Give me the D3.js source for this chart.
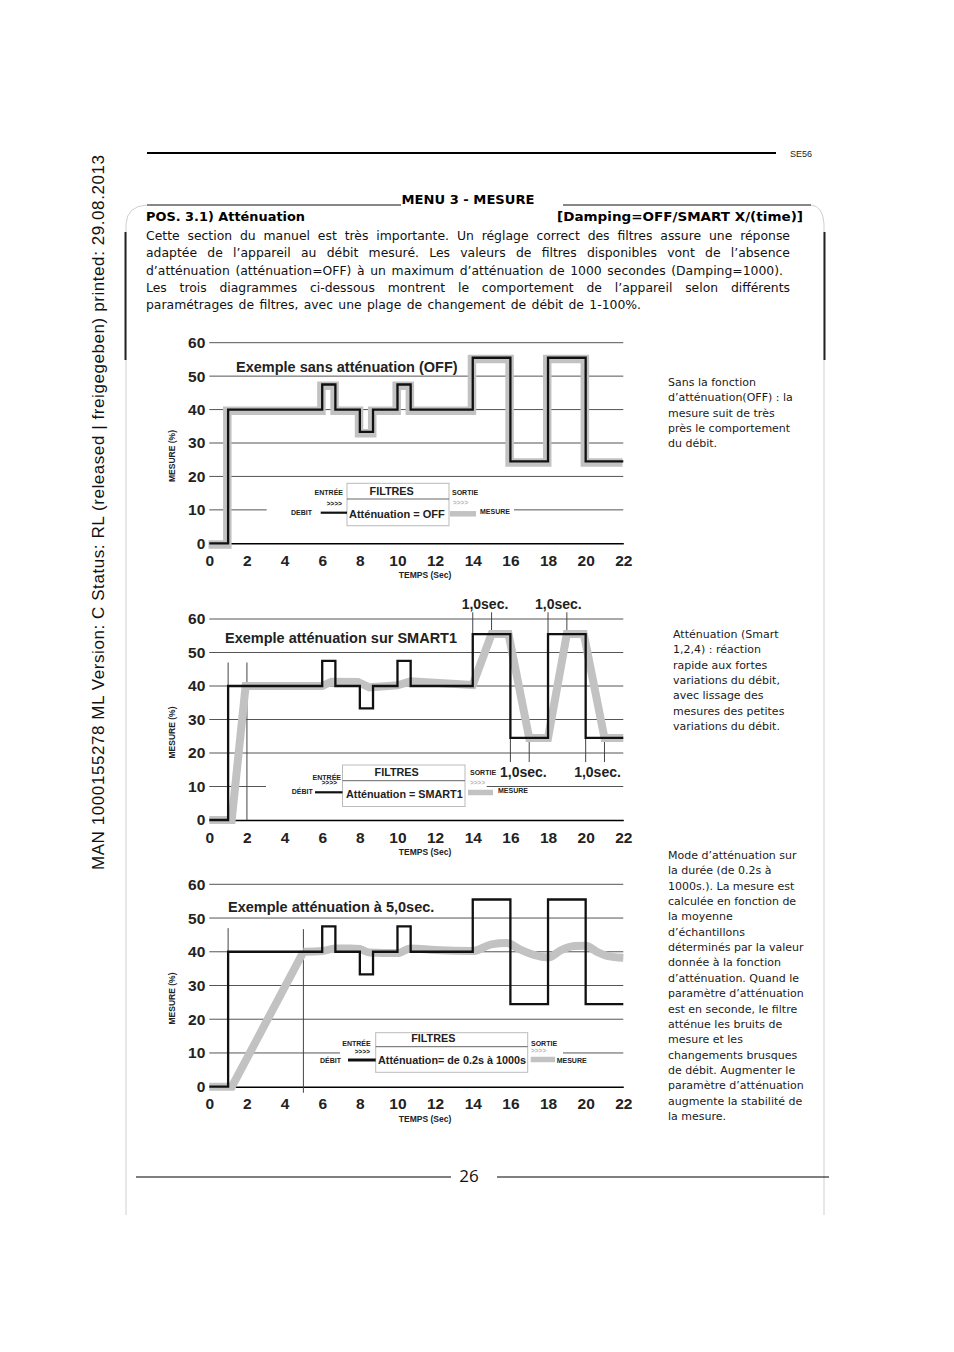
<!DOCTYPE html>
<html><head><meta charset="utf-8">
<script src="https://cdn.jsdelivr.net/npm/d3@7"></script>
<style>body{margin:0;background:#fff}svg{display:block}</style>
</head><body>
<svg id="page" width="954" height="1352"></svg>
<script>
// ---------- DATA ----------
const xTicks = [0,2,4,6,8,10,12,14,16,18,20,22];
const yTicks = [0,10,20,30,40,50,60];
// input flow (DEBIT), step-after
const debitTime  = [0,1,6,6.7,8,8.7,10,10.7,14,16,18,20,22];
const debitValue = [0,40,47.5,40,33.3,40,47.5,40,55.5,24.5,55.5,24.5,24.5];
// measured output, damping OFF (identical step)
const offTime  = [0,1,6,6.7,8,8.7,10,10.7,14,16,18,20,22];
const offValue = [0,40,47.5,40,33.3,40,47.5,40,55.5,24.5,55.5,24.5,24.5];
// measured output, SMART1
const smartTime  = [0,1.19,1.93,6,6.5,7.9,8.5,9.5,10,10.7,12,14,15,15.9,17,18,19,19.9,21,22];
const smartValue = [0,0,40,40,41.3,41.2,39.6,40,40.2,41.4,41,40.3,55.5,55.5,24.5,24.5,55.5,55.5,24.5,24.5];
// measured output, damping 5 s (ramp part, then smooth part)
const dampRampTime  = [0,1.2,5];
const dampRampValue = [0,0,40];
const dampTime  = [5,6,6.7,7.5,8,8.5,10,10.7,12,14,15,15.8,16.5,17.3,18,18.7,19.4,20,20.6,21.2,22];
const dampValue = [40,40.2,41,41,40.8,39.8,39.6,41,40.5,40.2,42.2,42.6,40.7,39,38.3,40.5,41.7,41.8,40,38.7,38.2];
// annotation markers chart 2
const smartMarkX    = [1,2,14,15,18,19,16,17,20,21];
const smartMarkFrom = [0,0,55.5,55.5,55.5,55.5,17.3,17.3,17.3,17.3];
const smartMarkTo   = [47,47,62,62,62,62,24.5,24.5,24.5,24.5];
const smartNoteX = [14.65,18.55,16.69,20.63];
const smartNoteY = [64.5,64.5,14.4,14.4];
const smartNoteText = ["1,0sec.","1,0sec.","1,0sec.","1,0sec."];
// annotation markers chart 3
const dampMarkX    = [1,5];
const dampMarkFrom = [0,-1.8];
const dampMarkTo   = [47,46.7];

const chartTitles = ["Exemple sans atténuation (OFF)","Exemple atténuation sur SMART1","Exemple atténuation à 5,0sec."];
const filterLabels = ["Atténuation = OFF","Atténuation = SMART1","Atténuation= de 0.2s à 1000s"];
const debitLabels = ["DEBIT","DÉBIT","DÉBIT"];

const bodyLines = [
 "Cette section du manuel est très importante. Un réglage correct des filtres assure une réponse",
 "adaptée de l’appareil au débit mesuré. Les valeurs de filtres disponibles vont de l’absence",
 "d’atténuation (atténuation=OFF) à un maximum d’atténuation de 1000 secondes (Damping=1000).",
 "Les trois diagrammes ci-dessous montrent le comportement de l’appareil selon différents",
 "paramétrages de filtres, avec une plage de changement de débit de 1-100%."
];
const side1 = ["Sans la fonction","d’atténuation(OFF) : la","mesure suit de très","près le comportement","du débit."];
const side2 = ["Atténuation (Smart","1,2,4) : réaction","rapide aux fortes","variations du débit,","avec lissage des","mesures des petites","variations du débit."];
const side3 = ["Mode d’atténuation sur","la durée (de 0.2s à","1000s.). La mesure est","calculée en fonction de","la moyenne","d’échantillons","déterminés par la valeur","donnée à la fonction","d’atténuation. Quand le","paramètre d’atténuation","est en seconde, le filtre","atténue les bruits de","mesure et les","changements brusques","de débit. Augmenter le","paramètre d’atténuation","augmente la stabilité de","la mesure."];

// ---------- DRAW ----------
const svg = d3.select('#page');
svg.append('rect').attr('width',954).attr('height',1352).attr('fill','#fff');
const ARIAL = "'Liberation Sans', Arial, sans-serif";
const TAHOMA = "'DejaVu Sans', Verdana, sans-serif";

// header rule
svg.append('line').attr('x1',147).attr('x2',776).attr('y1',153).attr('y2',153).attr('stroke','#000').attr('stroke-width',2);
svg.append('text').attr('x',790).attr('y',157).attr('font-family',ARIAL).attr('font-size',9).attr('fill','#222').text('SE56');

// frame
svg.append('path').attr('d','M126,1215 L126,224 Q127,206 147,205').attr('fill','none').attr('stroke','#cfcfcf');
svg.append('path').attr('d','M811,205 Q823,206 824,224 L824,1215').attr('fill','none').attr('stroke','#cfcfcf');
svg.append('line').attr('x1',147).attr('x2',401).attr('y1',205).attr('y2',205).attr('stroke','#111');
svg.append('line').attr('x1',563).attr('x2',811).attr('y1',205).attr('y2',205).attr('stroke','#111');
svg.append('line').attr('x1',125.5).attr('x2',125.5).attr('y1',232).attr('y2',360).attr('stroke','#222').attr('stroke-width',2);
svg.append('line').attr('x1',824.5).attr('x2',824.5).attr('y1',232).attr('y2',360).attr('stroke','#222').attr('stroke-width',2);

// side vertical doc text
svg.append('text').attr('transform','translate(104,870) rotate(-90)')
  .attr('font-family',ARIAL).attr('font-size',17).attr('fill','#111')
  .attr('textLength',715).attr('lengthAdjust','spacing')
  .text('MAN  1000155278  ML  Version: C  Status: RL (released | freigegeben)  printed: 29.08.2013');

svg.append('text').attr('x',468).attr('y',204).attr('text-anchor','middle').attr('font-family',TAHOMA)
  .attr('font-weight','bold').attr('font-size',12).attr('textLength',133).attr('lengthAdjust','spacingAndGlyphs').text('MENU 3 - MESURE');
svg.append('text').attr('x',146).attr('y',221).attr('font-family',TAHOMA).attr('font-weight','bold').attr('font-size',12.5)
  .attr('textLength',159).attr('lengthAdjust','spacingAndGlyphs').text('POS. 3.1) Atténuation');
svg.append('text').attr('x',557).attr('y',221).attr('font-family',TAHOMA).attr('font-weight','bold').attr('font-size',12.5)
  .attr('textLength',246).attr('lengthAdjust','spacingAndGlyphs').text('[Damping=OFF/SMART X/(time)]');

// justified body text
const bodyEnds = [790,790,783,790,641];
bodyLines.forEach((line,i)=>{
  const y = 240 + i*17.25;
  const words = line.split(' ');
  const g = svg.append('g');
  const nodes = words.map(w=>g.append('text').attr('y',y).attr('font-family',TAHOMA).attr('font-size',12.4).attr('fill','#111').text(w));
  const widths = nodes.map(n=>n.node().getComputedTextLength());
  const total = d3.sum(widths);
  const gap = (bodyEnds[i]-146-total)/(words.length-1);
  let x = 146;
  nodes.forEach((n,k)=>{ n.attr('x',x); x += widths[k]+gap; });
});

function sideText(lines,x,y0){
  lines.forEach((t,i)=>svg.append('text').attr('x',x).attr('y',y0+i*15.35)
    .attr('font-family',TAHOMA).attr('font-size',11).attr('fill','#1a1a1a').text(t));
}
sideText(side1,668,386);
sideText(side2,673,638);
sideText(side3,668,859);

// footer
svg.append('line').attr('x1',136).attr('x2',451).attr('y1',1177).attr('y2',1177).attr('stroke','#000');
svg.append('line').attr('x1',497).attr('x2',829).attr('y1',1177).attr('y2',1177).attr('stroke','#000');
svg.append('text').attr('x',469).attr('y',1182).attr('text-anchor','middle').attr('font-family',"'Open Sans','Noto Sans',sans-serif").attr('font-size',17).attr('fill','#111').text('26');

// ---------- charts ----------
const xScale = d3.scaleLinear().domain([0,22]).range([209.3,623.3]);

const charts = [
 {top:342.7,bottom:543.3,title:chartTitles[0],titleX:236,titleY:366.7,
  series:[{t:offTime,v:offValue,curve:d3.curveStepAfter}],gw:8.5,gshift:[-0.8,1.2],
  L:{gap:[266.7,514],box:[347,483.3,449,525.7],div:499,filt:[391.7,491.5],att:[349,514],attFs:11,entree:[343,493],arrIn:[342,503.7],
     debit:[291,512.7],inLine:[320.7,347,512.7,2.2],sortie:[452,493],arrOut:[453,503],bar:[450,476,513.8],mesure:[480,511.7]}},
 {top:619,bottom:820,title:chartTitles[1],titleX:225,titleY:638.3,
  series:[{t:smartTime,v:smartValue,curve:d3.curveLinear}],gw:8,gshift:[0,0],
  marks:{x:smartMarkX,f:smartMarkFrom,t:smartMarkTo},notes:{x:smartNoteX,y:smartNoteY,t:smartNoteText},
  L:{gap:[266,486.7],box:[342.5,765,465,806.5],div:780.7,filt:[396.7,772],att:[346,794],attFs:10.8,entree:[341,777.7],arrIn:[337,783],
     debit:[291.7,792],inLine:[315,342.5,792.3,2.2],sortie:[470,772.7],arrOut:[470,782.7],bar:[468,493,792.5],mesure:[498,791]}},
 {top:884.3,bottom:1086.7,title:chartTitles[2],titleX:228,titleY:906.7,
  series:[{t:dampRampTime,v:dampRampValue,curve:d3.curveLinear},{t:dampTime,v:dampValue,curve:d3.curveMonotoneX}],gw:8,gshift:[0,0],
  marks:{x:dampMarkX,f:dampMarkFrom,t:dampMarkTo},
  L:{gap:[340,563],box:[375.7,1032.7,527.7,1072.3],div:1046.7,filt:[433.3,1038.3],att:[378,1060.7],attFs:10.8,entree:[370.7,1044],arrIn:[370,1051.7],
     debit:[320,1060.7],inLine:[348,375.7,1060,3],sortie:[531,1043.3],arrOut:[531,1050.7],bar:[530.7,555,1059.5],mesure:[556.7,1060.3]}}
];

charts.forEach((c,ci)=>{
  const y = d3.scaleLinear().domain([0,60]).range([c.bottom,c.top]);
  const g = svg.append('g');
  // grid
  g.selectAll('.grid').data(yTicks.filter(v=>v>0)).join('line')
    .attr('x1',xScale(0)).attr('x2',xScale(22)).attr('y1',d=>y(d)).attr('y2',d=>y(d))
    .attr('stroke','#555').attr('stroke-width',1);
  // gap in 10-line for legend
  g.append('rect').attr('x',c.L.gap[0]).attr('width',c.L.gap[1]-c.L.gap[0]).attr('y',y(10)-2).attr('height',4).attr('fill','#fff');
  // x axis
  const xa = g.append('g').attr('transform',`translate(0,${y(0)})`)
    .call(d3.axisBottom(xScale).tickValues(xTicks).tickSize(0).tickPadding(11.5).tickFormat(d3.format('d')));
  xa.select('.domain').attr('stroke','#000').attr('stroke-width',1.6);
  xa.selectAll('text').attr('font-family',ARIAL).attr('font-weight','bold').attr('font-size',15.5).attr('fill','#222');
  // y axis
  const ya = g.append('g').attr('transform',`translate(${xScale(0)},0)`)
    .call(d3.axisLeft(y).tickValues(yTicks).tickSize(0).tickPadding(4));
  ya.select('.domain').remove();
  ya.selectAll('text').attr('font-family',ARIAL).attr('font-weight','bold').attr('font-size',15.5).attr('fill','#222');
  // axis titles
  g.append('text').attr('x',425).attr('y',y(0)+35).attr('text-anchor','middle').attr('font-family',ARIAL).attr('font-weight','bold')
    .attr('font-size',8.5).attr('fill','#222').text('TEMPS (Sec)');
  g.append('text').attr('transform',`translate(174.5,${(c.top+c.bottom)/2+13}) rotate(-90)`).attr('text-anchor','middle')
    .attr('font-family',ARIAL).attr('font-weight','bold').attr('font-size',8.5).attr('fill','#222').text('MESURE (%)');
  // title
  g.append('text').attr('x',c.titleX).attr('y',c.titleY+5).attr('font-family',ARIAL).attr('font-weight','bold')
    .attr('font-size',14.5).attr('fill','#222').text(c.title);
  // markers
  if(c.marks){
    g.selectAll('.mk').data(c.marks.x.map((x,i)=>({x,f:c.marks.f[i],t:c.marks.t[i]}))).join('line')
      .attr('x1',d=>xScale(d.x)).attr('x2',d=>xScale(d.x)).attr('y1',d=>y(d.f)).attr('y2',d=>y(d.t))
      .attr('stroke','#444').attr('stroke-width',1);
  }
  if(c.notes){
    g.selectAll('.nt').data(c.notes.x.map((x,i)=>({x,y:c.notes.y[i],t:c.notes.t[i]}))).join('text')
      .attr('x',d=>xScale(d.x)).attr('y',d=>y(d.y)+5).attr('text-anchor','middle')
      .attr('font-family',ARIAL).attr('font-weight','bold').attr('font-size',14).attr('fill','#222').text(d=>d.t);
  }
  // measure (gray)
  const mg = g.append('g').attr('transform',`translate(${c.gshift[0]},${c.gshift[1]})`);
  c.series.forEach(s=>{
    const mData = s.t.map((t,i)=>[t,s.v[i]]);
    mg.append('path').attr('d',d3.line().x(d=>xScale(d[0])).y(d=>y(d[1])).curve(s.curve)(mData))
      .attr('fill','none').attr('stroke','#c2c2c2').attr('stroke-width',c.gw).attr('stroke-linejoin','miter');
  });
  // debit (black)
  const dData = debitTime.map((t,i)=>[t,debitValue[i]]);
  g.append('path').attr('d',d3.line().x(d=>xScale(d[0])).y(d=>y(d[1])).curve(d3.curveStepAfter)(dData))
    .attr('fill','none').attr('stroke','#111').attr('stroke-width',2.3);

  // legend
  const L = c.L, lg = svg.append('g');
  lg.append('rect').attr('x',L.box[0]).attr('y',L.box[1]).attr('width',L.box[2]-L.box[0]).attr('height',L.box[3]-L.box[1])
    .attr('fill','#fff').attr('stroke','#bbb').attr('stroke-width',1);
  lg.append('line').attr('x1',L.box[0]).attr('x2',L.box[2]).attr('y1',L.div).attr('y2',L.div).attr('stroke','#666');
  const t = (x,yy,txt,fs,anchor,fill)=>lg.append('text').attr('x',x).attr('y',yy).attr('dy','0.35em').attr('text-anchor',anchor||'start')
    .attr('font-family',ARIAL).attr('font-weight','bold').attr('font-size',fs).attr('fill',fill||'#222').text(txt);
  t(L.filt[0],L.filt[1],'FILTRES',10.8,'middle');
  t(L.att[0],L.att[1],filterLabels[ci],L.attFs);
  t(L.entree[0],L.entree[1],'ENTRÉE',7,'end');
  t(L.arrIn[0],L.arrIn[1],'>>>>',6.5,'end');
  t(L.debit[0],L.debit[1],debitLabels[ci],7);
  lg.append('line').attr('x1',L.inLine[0]).attr('x2',L.inLine[1]).attr('y1',L.inLine[2]).attr('y2',L.inLine[2]).attr('stroke','#111').attr('stroke-width',L.inLine[3]);
  t(L.sortie[0],L.sortie[1],'SORTIE',7);
  t(L.arrOut[0],L.arrOut[1],'>>>>',6.5,'start','#bbb');
  lg.append('line').attr('x1',L.bar[0]).attr('x2',L.bar[1]).attr('y1',L.bar[2]).attr('y2',L.bar[2]).attr('stroke','#c2c2c2').attr('stroke-width',5.5);
  t(L.mesure[0],L.mesure[1],'MESURE',7);
});
</script>
</body></html>
